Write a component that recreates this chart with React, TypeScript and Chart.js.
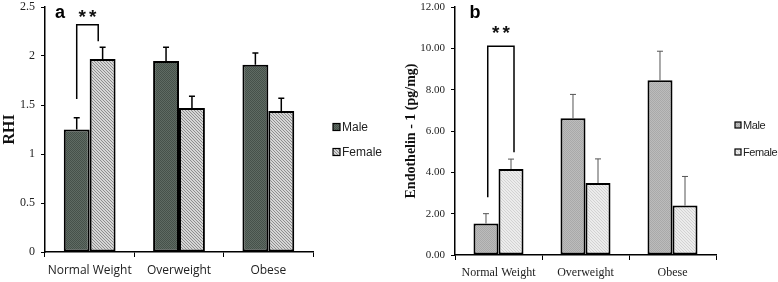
import React, { useEffect, useRef } from 'react';
import { Chart, registerables } from 'chart.js';

Chart.register(...registerables);

// ---------- data ----------
const categories = ['Normal Weight', 'Overweight', 'Obese'];
const seriesNames = ['Male', 'Female'];

const rhiMale = [1.25, 1.95, 1.91];
const rhiMaleErr = [0.12, 0.14, 0.12];
const rhiFemale = [1.97, 1.47, 1.44];
const rhiFemaleErr = [0.12, 0.12, 0.13];
const rhiTickLabels = ['0', '0.5', '1', '1.5', '2', '2.5'];

const et1Male = [1.52, 6.62, 8.45];
const et1MaleErr = [0.48, 1.15, 1.41];
const et1Female = [4.16, 3.48, 2.39];
const et1FemaleErr = [0.48, 1.17, 1.41];
const et1TickLabels = ['0.00', '2.00', '4.00', '6.00', '8.00', '10.00', '12.00'];

// significance bracket (data units): left leg bottom, top, right leg bottom, stars
const rhiBracket = [1.56, 2.32, 2.15, 2.41];
const et1Bracket = [2.79, 10.1, 4.97, 10.78];

function makePattern(base: string, ink: string, kind: 'dots' | 'diag') {
  const n = kind === 'diag' ? 3 : 2;
  const c = document.createElement('canvas');
  c.width = n;
  c.height = n;
  const g = c.getContext('2d')!;
  g.fillStyle = base;
  g.fillRect(0, 0, n, n);
  g.fillStyle = ink;
  for (let y = 0; y < n; y++) {
    for (let x = 0; x < n; x++) {
      const on = kind === 'diag' ? (x - y + n) % n === 0 : (x + y) % 2 === 0;
      if (on) g.fillRect(x, y, 1, 1);
    }
  }
  return g.createPattern(c, 'repeat') as CanvasPattern;
}

type PanelOpts = {
  male: number[];
  female: number[];
  errs: number[][];
  max: number;
  step: number;
  tickLabels: string[];
  title: string;
  titleFont: any;
  titlePad: number;
  tickFont: any;
  xFont: any;
  yWidth: number;
  xHeight: number;
  padRight: number;
  padTop: number;
  catPct: number;
  fills: CanvasPattern[];
  errColor: string;
  errWidth: number;
  bracket: number[];
  bracketShift: number[];
  letter: string;
  letterDx: number;
  legendDx: number;
  legendY: number[];
  legendBox: number;
  legendFont: string;
  legendSpacing: string;
};

function buildConfig(p: PanelOpts): any {
  const annot = {
    id: 'annot',
    afterDatasetsDraw(chart: any) {
      const ctx = chart.ctx as CanvasRenderingContext2D;
      const ys = chart.scales.y;
      const area = chart.chartArea;
      ctx.save();
      // error bars
      chart.data.datasets.forEach((ds: any, di: number) => {
        const meta = chart.getDatasetMeta(di);
        meta.data.forEach((bar: any, i: number) => {
          const top = ys.getPixelForValue(ds.data[i] + p.errs[di][i]);
          ctx.strokeStyle = p.errColor;
          ctx.lineWidth = p.errWidth;
          ctx.beginPath();
          ctx.moveTo(bar.x, bar.y);
          ctx.lineTo(bar.x, top);
          ctx.moveTo(bar.x - 3, top);
          ctx.lineTo(bar.x + 3, top);
          ctx.stroke();
        });
      });
      // bracket
      const m = chart.getDatasetMeta(0).data[0];
      const f = chart.getDatasetMeta(1).data[0];
      const xl = m.x + p.bracketShift[0] * m.width;
      const xr = f.x + p.bracketShift[1] * f.width;
      ctx.strokeStyle = '#000';
      ctx.lineWidth = 1.5;
      ctx.beginPath();
      ctx.moveTo(xl, ys.getPixelForValue(p.bracket[0]));
      ctx.lineTo(xl, ys.getPixelForValue(p.bracket[1]));
      ctx.lineTo(xr, ys.getPixelForValue(p.bracket[1]));
      ctx.lineTo(xr, ys.getPixelForValue(p.bracket[2]));
      ctx.stroke();
      // stars
      ctx.fillStyle = '#111';
      ctx.font = 'bold 19px "Liberation Sans"';
      (ctx as any).letterSpacing = '3px';
      ctx.textAlign = 'center';
      ctx.textBaseline = 'alphabetic';
      ctx.fillText('**', (xl + xr) / 2 + 1.5, ys.getPixelForValue(p.bracket[3]) + 7);
      (ctx as any).letterSpacing = '0px';
      // panel letter
      ctx.font = 'bold 18px "Liberation Sans"';
      ctx.textAlign = 'center';
      ctx.textBaseline = 'middle';
      ctx.fillStyle = '#000';
      ctx.fillText(p.letter, area.left + p.letterDx, 13);
      // legend
      ctx.font = p.legendFont;
      ctx.textAlign = 'left';
      ctx.textBaseline = 'middle';
      chart.data.datasets.forEach((ds: any, di: number) => {
        const lx = area.right + p.legendDx;
        const ly = p.legendY[di];
        const b = p.legendBox;
        ctx.fillStyle = ds.backgroundColor;
        ctx.fillRect(lx, ly - b / 2, b, b);
        ctx.strokeStyle = '#000';
        ctx.lineWidth = 1.2;
        ctx.strokeRect(lx, ly - b / 2, b, b);
        ctx.fillStyle = '#222';
        (ctx as any).letterSpacing = p.legendSpacing;
        ctx.fillText(ds.label, lx + b + 2, ly + 1);
        (ctx as any).letterSpacing = '0px';
      });
      ctx.restore();
    },
  };

  return {
    type: 'bar',
    data: {
      labels: categories,
      datasets: [
        {
          label: seriesNames[0],
          data: p.male,
          backgroundColor: p.fills[0],
          borderColor: '#000',
          borderWidth: 2,
          borderSkipped: false,
        },
        {
          label: seriesNames[1],
          data: p.female,
          backgroundColor: p.fills[1],
          borderColor: '#000',
          borderWidth: 2,
          borderSkipped: false,
        },
      ],
    },
    options: {
      animation: false,
      responsive: false,
      layout: { autoPadding: false, padding: { left: 0, right: p.padRight, top: p.padTop, bottom: 0 } },
      datasets: { bar: { categoryPercentage: p.catPct, barPercentage: 1 } },
      plugins: { legend: { display: false }, tooltip: { enabled: false } },
      scales: {
        x: {
          type: 'category',
          offset: true,
          grid: { offset: true, drawOnChartArea: false, drawTicks: true, tickLength: 5, color: '#000', tickColor: '#000' },
          border: { display: true, color: '#000', width: 1.5 },
          ticks: { font: p.xFont, color: '#222', padding: 6, maxRotation: 0, autoSkip: false },
          afterFit: (s: any) => {
            s.height = p.xHeight;
            s.paddingLeft = 0;
            s.paddingRight = 0;
          },
        },
        y: {
          min: 0,
          max: p.max,
          grid: { drawOnChartArea: false, drawTicks: true, tickLength: 4, color: '#000', tickColor: '#000' },
          border: { display: true, color: '#000', width: 1.5 },
          ticks: {
            stepSize: p.step,
            font: p.tickFont,
            color: '#222',
            padding: 6,
            callback: (_v: any, i: number) => p.tickLabels[i],
          },
          title: {
            display: true,
            text: p.title,
            font: p.titleFont,
            color: '#111',
            padding: { top: p.titlePad, bottom: 0 },
          },
          afterFit: (s: any) => {
            s.width = p.yWidth;
            s.paddingTop = 0;
            s.paddingBottom = 0;
          },
        },
      },
    },
    plugins: [annot],
  };
}

function Panel({ width, left, make }: { width: number; left: number; make: () => PanelOpts }) {
  const ref = useRef<HTMLCanvasElement | null>(null);
  useEffect(() => {
    if (!ref.current) return;
    const chart = new Chart(ref.current, buildConfig(make()));
    return () => chart.destroy();
  }, []);
  return (
    <canvas
      ref={ref}
      width={width}
      height={282}
      style={{ position: 'absolute', left, top: 0, width, height: 282, display: 'block' }}
    />
  );
}

export default function App() {
  const panelA = (): PanelOpts => ({
    male: rhiMale,
    female: rhiFemale,
    errs: [rhiMaleErr, rhiFemaleErr],
    max: 2.5,
    step: 0.5,
    tickLabels: rhiTickLabels,
    title: 'RHI',
    titleFont: { family: '"Liberation Serif"', size: 16, weight: 'bold' },
    titlePad: 0,
    tickFont: { family: '"Liberation Serif"', size: 12 },
    xFont: { family: '"Open Sans"', size: 12 },
    yWidth: 45,
    xHeight: 30,
    padRight: 77,
    padTop: 7,
    catPct: 0.58,
    fills: [makePattern('#5f6b63', '#46514a', 'dots'), makePattern('#d6d6d6', '#8e8e8e', 'diag')],
    errColor: '#000',
    errWidth: 1.5,
    bracket: rhiBracket,
    bracketShift: [0, -0.17],
    letter: 'a',
    letterDx: 15,
    legendDx: 20,
    legendY: [127, 152],
    legendBox: 7,
    legendFont: '12px "Liberation Sans"',
    legendSpacing: '0px',
  });
  const panelB = (): PanelOpts => ({
    male: et1Male,
    female: et1Female,
    errs: [et1MaleErr, et1FemaleErr],
    max: 12,
    step: 2,
    tickLabels: et1TickLabels,
    title: 'Endothelin - 1 (pg/mg)',
    titleFont: { family: '"Liberation Serif"', size: 14, weight: 'bold' },
    titlePad: 13,
    tickFont: { family: '"Liberation Serif"', size: 11 },
    xFont: { family: '"Liberation Serif"', size: 12 },
    yWidth: 65,
    xHeight: 27,
    padRight: 62,
    padTop: 7,
    catPct: 0.575,
    fills: [makePattern('#bcbcbc', '#a9a9a9', 'dots'), makePattern('#ececec', '#d2d2d2', 'diag')],
    errColor: '#555',
    errWidth: 1,
    bracket: et1Bracket,
    bracketShift: [0.07, 0.12],
    letter: 'b',
    letterDx: 20,
    legendDx: 19,
    legendY: [125, 152],
    legendBox: 6,
    legendFont: '11px "Liberation Sans"',
    legendSpacing: '-0.4px',
  });
  return (
    <div style={{ position: 'absolute', left: 0, top: 0, width: 778, height: 282, background: '#fff' }}>
      <Panel width={390} left={0} make={panelA} />
      <Panel width={388} left={390} make={panelB} />
    </div>
  );
}
